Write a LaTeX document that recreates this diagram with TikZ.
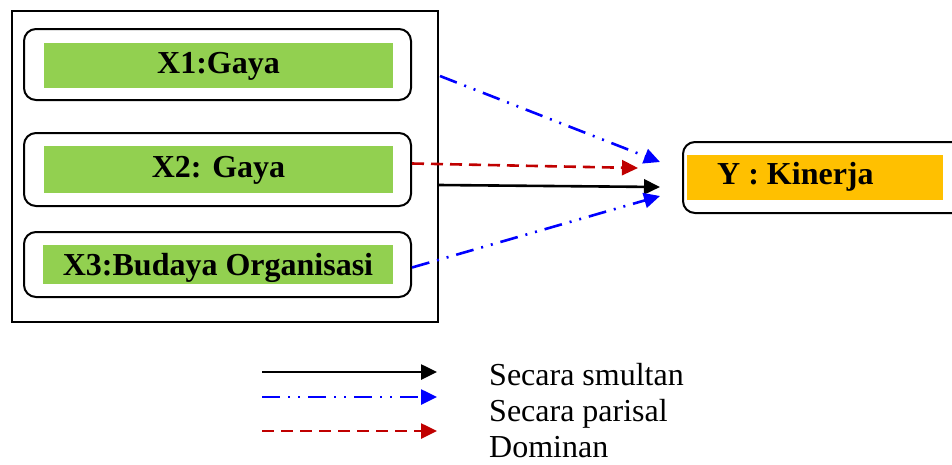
\documentclass[tikz,border=0pt]{standalone}
\usepackage{fontspec}
\setmainfont{Liberation Serif}
\usetikzlibrary{arrows.meta}
\definecolor{boxgreen}{HTML}{92D050}
\definecolor{boxorange}{HTML}{FFC000}
\definecolor{linkblue}{HTML}{0000FF}
\definecolor{linkred}{HTML}{C00000}
\tikzset{
  roundbox/.style={draw=black, line width=2pt, rounded corners=12pt, fill=white, inner sep=0pt},
  fillbox/.style={inner sep=0pt, draw=none},
  varlabel/.style={font=\fontsize{32}{36}\selectfont\bfseries, inner sep=0pt, anchor=base},
  legendlabel/.style={font=\fontsize{32}{36}\selectfont, inner sep=0pt, anchor=base west},
  tip/.style={-{Triangle[length=16pt,width=15pt]}},
  simul/.style={tip, draw=black, line width=2.6pt},
  parsial/.style={tip, draw=linkblue, line width=2.6pt, dash pattern=on 18pt off 8pt on 2pt off 8pt on 2pt off 8pt},
  dominan/.style={tip, draw=linkred, line width=2.6pt, dash pattern=on 12pt off 7pt},
}
\begin{document}
\begin{tikzpicture}[x=1pt, y=-1pt]
\useasboundingbox (0,0) rectangle (952,464);
\clip (0,0) rectangle (952,464);

% enclosing frame around the independent variables
\node[draw=black, line width=2pt, inner sep=0pt, minimum width=426pt, minimum height=311pt] (frame) at (225,166.5) {};

% independent variables
\node[roundbox, minimum width=387pt, minimum height=71pt] (b1) at (217.5,64.5) {};
\node[fillbox, fill=boxgreen, minimum width=349pt, minimum height=45pt] (g1) at (218.5,65.5) {};
\node[varlabel] (x1) at (218.5,73) {X1:Gaya};

\node[roundbox, minimum width=387pt, minimum height=73pt] (b2) at (217.5,169.5) {};
\node[fillbox, fill=boxgreen, minimum width=349pt, minimum height=47pt] (g2) at (218.5,169.5) {};
\node[varlabel] (x2) at (218.5,177) {X2: Gaya};

\node[roundbox, minimum width=387pt, minimum height=65pt] (b3) at (217.5,264.5) {};
\node[fillbox, fill=boxgreen, minimum width=350pt, minimum height=39pt] (g3) at (218,264.5) {};
\node[varlabel] (x3) at (218,275) {X3:Budaya Organisasi};

% dependent variable
\node[roundbox, minimum width=282pt, minimum height=71pt] (yb) at (824,177.5) {};
\node[fillbox, fill=boxorange, minimum width=256pt, minimum height=45pt] (yg) at (815,177.5) {};
\node[varlabel, anchor=base west] (ylab) at (717,184) {Y : Kinerja};

% connector ends
\coordinate (s1) at (440,76);
\coordinate (s2) at ([yshift=6pt]b2.east);
\coordinate (s3) at (frame.east |- 0,185);
\coordinate (s4) at ([yshift=-3pt]b3.east);
\coordinate (t1) at (660,162);
\coordinate (t2) at (638,168);
\coordinate (t3) at (660,187);
\coordinate (t4) at (660,196);

\draw[parsial] (s1) -- (t1);
\draw[dominan] (s2) -- (t2);
\draw[simul] (s3) -- (t3);
\draw[parsial] (s4) -- (t4);

% legend
\coordinate (l1a) at (262,372);
\coordinate (l1b) at (437,372);
\coordinate (l2a) at (262,397);
\coordinate (l2b) at (437,397);
\coordinate (l3a) at (262,431);
\coordinate (l3b) at (437,431);
\draw[simul] (l1a) -- (l1b);
\draw[parsial] (l2a) -- (l2b);
\draw[dominan] (l3a) -- (l3b);
\node[legendlabel] (k1) at (489,385) {Secara smultan};
\node[legendlabel] (k2) at (489,421) {Secara parisal};
\node[legendlabel] (k3) at (489,457) {Dominan};
\end{tikzpicture}
\end{document}
